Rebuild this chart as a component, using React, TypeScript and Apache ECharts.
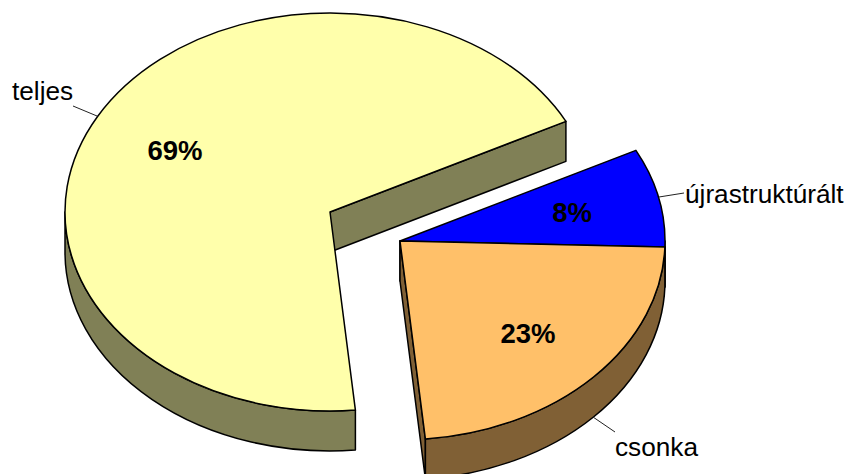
import React, { useEffect, useRef } from "react";
import * as echarts from "echarts";

const categories = ["újrastruktúrált", "csonka", "teljes"];
const shares = [8, 23, 69];
const topColors = ["#0000FF", "#FFC069", "#FFFFAB"];
const wallColors = ["#000080", "#806035", "#808056"];

const WIDTH = 846;
const HEIGHT = 474;
const RX = 265;
const RY = 199;
const DEPTH = 40;
const START_DEG = -27.1;
const DETACHED = { cx: 400, cy: 241 };
const MAIN = { cx: 330, cy: 212 };
const centers = [DETACHED, DETACHED, MAIN];
const valuePositions = [
  [572, 212],
  [528, 333],
  [175, 150],
];
const namePositions: { x: number; y: number; align: string }[] = [
  { x: 685, y: 194, align: "left" },
  { x: 615, y: 447, align: "left" },
  { x: 12, y: 91, align: "left" },
];
const leaders = [
  [659, 197, 684, 193],
  [593, 417, 615, 432],
  [97, 116, 73, 106],
];

const FONT = '"Liberation Sans", Arial, sans-serif';
const rad = (d: number) => (d * Math.PI) / 180;

function sliceAngles(index: number) {
  const before = shares.slice(0, index).reduce((a, b) => a + b, 0);
  const total = shares.reduce((a, b) => a + b, 0);
  return {
    start: START_DEG + (before / total) * 360,
    end: START_DEG + ((before + shares[index]) / total) * 360,
  };
}

function pt(c: { cx: number; cy: number }, deg: number, drop = 0) {
  return [c.cx + RX * Math.cos(rad(deg)), c.cy + RY * Math.sin(rad(deg)) + drop];
}

function arc(to: number[], large: boolean, sweep: boolean) {
  return `A ${RX} ${RY} 0 ${large ? 1 : 0} ${sweep ? 1 : 0} ${to[0]} ${to[1]}`;
}

function topPath(c: { cx: number; cy: number }, a: number, b: number) {
  const p = pt(c, a);
  const q = pt(c, b);
  return `M ${c.cx} ${c.cy} L ${p[0]} ${p[1]} ${arc(q, b - a > 180, true)} Z`;
}

function sidePath(c: { cx: number; cy: number }, a: number) {
  const p = pt(c, a);
  return `M ${c.cx} ${c.cy} L ${p[0]} ${p[1]} L ${p[0]} ${p[1] + DEPTH} L ${c.cx} ${c.cy + DEPTH} Z`;
}

function outerPath(c: { cx: number; cy: number }, a: number, b: number) {
  const p = pt(c, a);
  const q = pt(c, b);
  const qd = pt(c, b, DEPTH);
  const pd = pt(c, a, DEPTH);
  return `M ${p[0]} ${p[1]} ${arc(q, false, true)} L ${qd[0]} ${qd[1]} ${arc(pd, false, false)} Z`;
}

function renderSlice(params: any, api: any) {
  const i = params.dataIndex;
  const value = api.value(0);
  const c = centers[i];
  const { start, end } = sliceAngles(i);
  const wallStyle = { fill: wallColors[i], stroke: "#000", lineWidth: 1.5, lineJoin: "round" };
  const children: any[] = [];

  if (Math.cos(rad(start)) < 0) {
    children.push({ type: "path", shape: { pathData: sidePath(c, start) }, style: wallStyle });
  }
  if (Math.cos(rad(end)) > 0) {
    children.push({ type: "path", shape: { pathData: sidePath(c, end) }, style: wallStyle });
  }
  const a = Math.max(start, 0);
  const b = Math.min(end, 180);
  if (b > a) {
    children.push({ type: "path", shape: { pathData: outerPath(c, a, b) }, style: wallStyle });
  }
  children.push({
    type: "path",
    shape: { pathData: topPath(c, start, end) },
    style: { fill: topColors[i], stroke: "#000", lineWidth: 1.5, lineJoin: "round" },
  });
  const l = leaders[i];
  children.push({
    type: "line",
    shape: { x1: l[0], y1: l[1], x2: l[2], y2: l[3] },
    style: { stroke: "#222", lineWidth: 1 },
  });
  children.push({
    type: "text",
    x: valuePositions[i][0],
    y: valuePositions[i][1],
    style: {
      text: `${value}%`,
      fill: "#000",
      font: `bold 27.5px ${FONT}`,
      align: "center",
      verticalAlign: "middle",
    },
  });
  children.push({
    type: "text",
    x: namePositions[i].x,
    y: namePositions[i].y,
    style: {
      text: categories[i],
      fill: "#000",
      font: `26.2px ${FONT}`,
      align: namePositions[i].align,
      verticalAlign: "middle",
    },
  });
  return { type: "group", children };
}

export default function App() {
  const ref = useRef<HTMLDivElement>(null);
  useEffect(() => {
    document.body.style.margin = "0";
    const chart = echarts.init(ref.current!, null, { renderer: "svg" });
    chart.setOption({
      animation: false,
      backgroundColor: "#fff",
      series: [
        {
          type: "custom",
          coordinateSystem: "none",
          renderItem: renderSlice,
          data: shares.map((v, i) => ({ name: categories[i], value: [v] })),
          silent: true,
        },
      ],
    });
    return () => chart.dispose();
  }, []);
  return <div ref={ref} style={{ width: WIDTH, height: HEIGHT }} />;
}
